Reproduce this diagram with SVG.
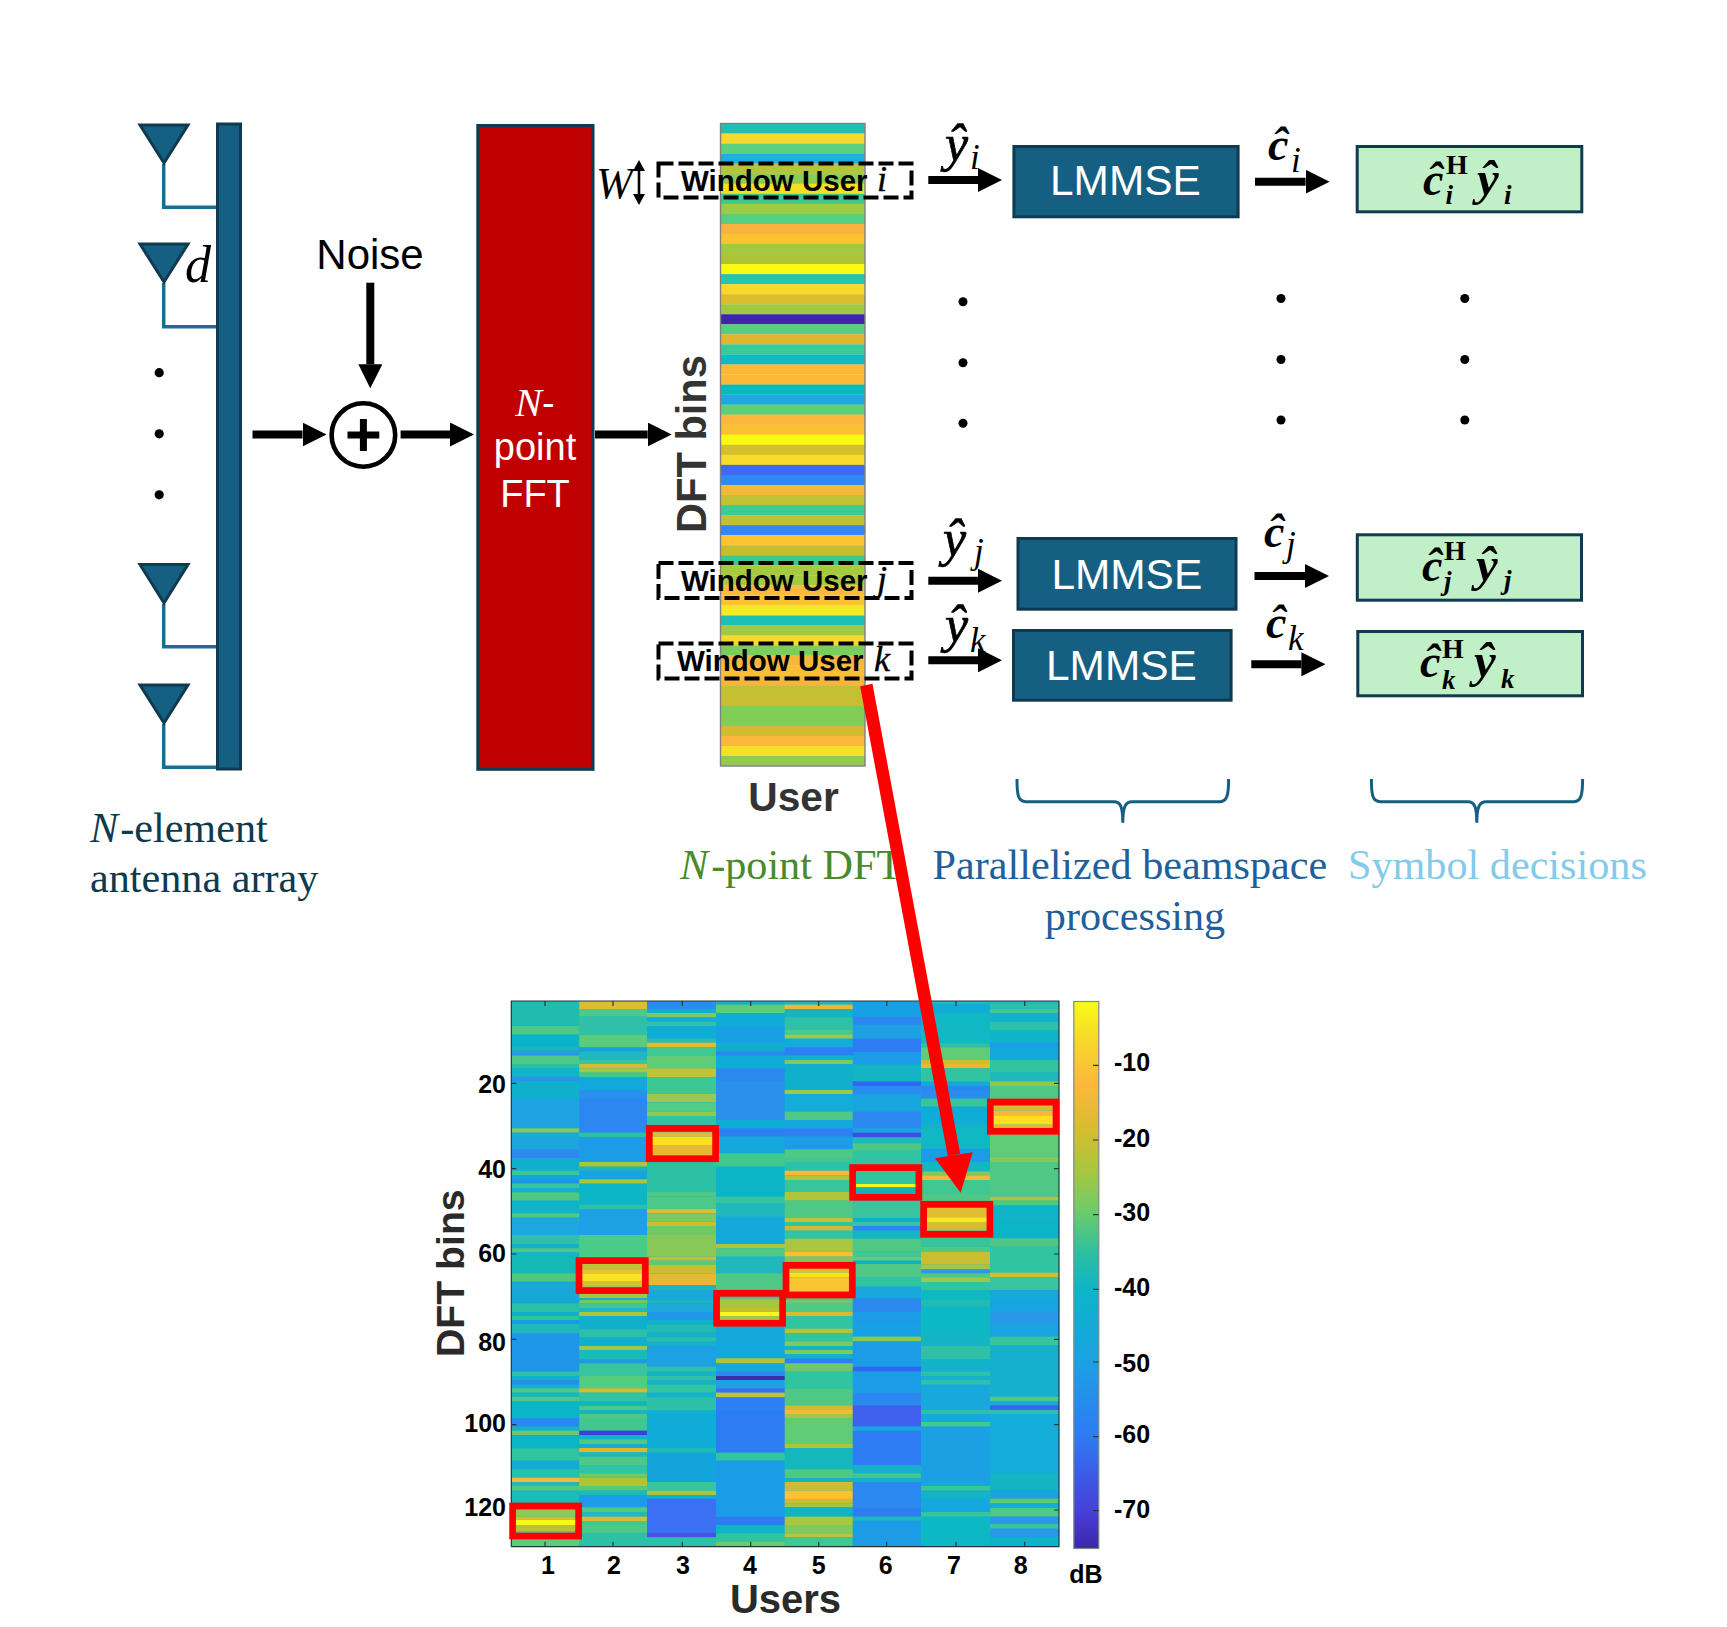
<svg xmlns="http://www.w3.org/2000/svg" width="1727" height="1627" viewBox="0 0 1727 1627">
<style>
text{font-family:"Liberation Sans",Arial,sans-serif}
.serif,.serif tspan{font-family:"Liberation Serif","Times New Roman",serif}
.it{font-family:"Liberation Serif","Times New Roman",serif;font-style:italic}
.blue{fill:#156082;stroke:#0f3a4f;stroke-width:3}
.green{fill:#c1f0c8;stroke:#0f3a4f;stroke-width:3}
.ant{fill:#156082;stroke:#0f3a4f;stroke-width:3;stroke-linejoin:miter}
.feed{fill:none;stroke:#1a6d93;stroke-width:3.5}
.brace{fill:none;stroke:#156082;stroke-width:3}
.lm{fill:#fff;font-size:42.4px;text-anchor:middle}
.win{font-size:29.5px;font-weight:bold;fill:#000}
.winv{font-size:36px;fill:#000;stroke:#000;stroke-width:.4}
.dash{fill:none;stroke:#000;stroke-width:4;stroke-dasharray:15 5}
.arr{fill:none;stroke:#000;stroke-width:8;marker-end:url(#ah)}
.cap{font-size:42.2px}
.st rect{width:144.5px}
.hm rect{width:69px}
.rb{fill:none;stroke:#f00;stroke-width:6.7}
.tl{font-size:25px;font-weight:bold;fill:#000}
.tr{text-anchor:end}
.tm{text-anchor:middle}
.hat{font-size:52px;font-style:italic;stroke:#000;stroke-width:.7}
.hatb{font-size:44px;font-style:italic;font-weight:bold}
.hatc{font-size:46px;font-style:italic;font-weight:bold}
.hatd{font-size:49px;font-style:italic;font-weight:bold}
.sub{font-size:35px;font-style:italic}
.subb{font-size:27px;font-style:italic;font-weight:bold}
.sup{font-size:28px;font-weight:bold}
.dot{fill:#000}
.tick{fill:none;stroke:#20383c;stroke-width:1.2}
</style>
<defs>
<marker id="ah" markerUnits="strokeWidth" markerWidth="3" markerHeight="3" viewBox="0 0 3 3" refX="0" refY="1.5" orient="auto"><path d="M0 0L3 1.5L0 3z" fill="#000"/></marker>
<linearGradient id="parula" x1="0" y1="0" x2="0" y2="1">
<stop offset="0" stop-color="#f9fb15"/><stop offset=".06" stop-color="#f7dc2a"/><stop offset=".15" stop-color="#fdb83c"/><stop offset=".23" stop-color="#d8bc30"/><stop offset=".31" stop-color="#a8c640"/><stop offset=".38" stop-color="#70cc68"/><stop offset=".46" stop-color="#2cc0a0"/><stop offset=".53" stop-color="#0cb4c8"/><stop offset=".66" stop-color="#1ca0e4"/><stop offset=".79" stop-color="#2e7cf4"/><stop offset=".93" stop-color="#4840d8"/><stop offset="1" stop-color="#3e26a8"/>
</linearGradient>
</defs>
<rect width="1727" height="1627" fill="#fff"/>

<g id="antenna-array">
<path class="feed" d="M163.7 164V207.3H217"/><path class="feed" d="M163.7 283V326.7H217"/><path class="feed" d="M163.7 604V646.7H217"/><path class="feed" d="M163.7 724V767.3H217"/>
<rect class="blue" x="217.5" y="124" width="23" height="645"/>
<polygon class="ant" points="140,125 188,125 164,163"/>
<polygon class="ant" points="140,244 188,244 164,282"/>
<polygon class="ant" points="140,564.5 188,564.5 164,603"/>
<polygon class="ant" points="140,685 188,685 164,723"/>
<circle class="dot" cx="159.2" cy="372.7" r="4.6"/><circle class="dot" cx="159.2" cy="433.8" r="4.6"/><circle class="dot" cx="159.2" cy="494.8" r="4.6"/>
<text class="it" x="185" y="281.7" font-size="52" fill="#000">d</text>
<text class="serif cap" x="90" y="841.5" fill="#0e3a4e"><tspan font-style="italic">N</tspan><tspan dx="2">-element</tspan></text>
<text class="serif cap" x="90" y="891.5" fill="#0e3a4e">antenna array</text>
</g>

<g id="noise">
<text x="370" y="269" font-size="42" text-anchor="middle" fill="#000">Noise</text>
</g>
<g id="adder">
<circle cx="363.4" cy="435" r="31.8" fill="#fff" stroke="#000" stroke-width="4.6"/>
<path d="M347.5 435H379.3M363.4 419V451" stroke="#000" stroke-width="7" fill="none"/>
</g>

<g id="fft">
<rect x="477.8" y="125.5" width="115.2" height="643.8" fill="#c00000" stroke="#0f3a4f" stroke-width="3"/>
<text x="535" y="416" font-size="38" text-anchor="middle" fill="#fff"><tspan class="it" font-size="40">N</tspan>-</text>
<text x="535" y="460" font-size="38" text-anchor="middle" fill="#fff">point</text>
<text x="535" y="507" font-size="38" text-anchor="middle" fill="#fff">FFT</text>
</g>

<g id="dft-strip">
<g class="st" transform="translate(720.5 123.5) scale(1 10.04)">
<rect y="0" height="1.02" fill="#1fbfb5"/><rect y="1" height="1.02" fill="#f5d92c"/><rect y="2" height="1.02" fill="#5ad17f"/><rect y="3" height="1.02" fill="#1bb0e0"/><rect y="4" height="1.02" fill="#b5c43a"/><rect y="5" height="1.02" fill="#8ccd55"/><rect y="6" height="1.02" fill="#f8de20"/><rect y="7" height="1.02" fill="#3cc98f"/><rect y="8" height="1.02" fill="#9ccb44"/><rect y="9" height="1.02" fill="#56d080"/><rect y="10" height="1.02" fill="#f7b33d"/><rect y="11" height="1.02" fill="#fdc22f"/><rect y="12" height="1.02" fill="#a3c93f"/><rect y="13" height="1.02" fill="#adc535"/><rect y="14" height="1.02" fill="#f9fb10"/><rect y="15" height="1.02" fill="#28c4ac"/><rect y="16" height="1.02" fill="#f8d828"/><rect y="17" height="1.02" fill="#dcbd2d"/><rect y="18" height="1.02" fill="#a0c840"/><rect y="19" height="1.02" fill="#3e26a8"/><rect y="20" height="1.02" fill="#56d080"/><rect y="21" height="1.02" fill="#e0b62e"/><rect y="22" height="1.02" fill="#38cb97"/><rect y="23" height="1.02" fill="#0ebcc0"/><rect y="24" height="1.02" fill="#fcb937"/><rect y="25" height="1.02" fill="#fcb937"/><rect y="26" height="1.02" fill="#0abbbc"/><rect y="27" height="1.02" fill="#1fa8e0"/><rect y="28" height="1.02" fill="#5ecf78"/><rect y="29" height="1.02" fill="#fbb73c"/><rect y="30" height="1.02" fill="#fcc032"/><rect y="31" height="1.02" fill="#f8fa12"/><rect y="32" height="1.02" fill="#d4bf2e"/><rect y="33" height="1.02" fill="#f7dc2a"/><rect y="34" height="1.02" fill="#3f69f5"/><rect y="35" height="1.02" fill="#2e8af2"/><rect y="36" height="1.02" fill="#f5b93a"/><rect y="37" height="1.02" fill="#bfc233"/><rect y="38" height="1.02" fill="#3dcc8e"/><rect y="39" height="1.02" fill="#bcc136"/><rect y="40" height="1.02" fill="#2f88f4"/><rect y="41" height="1.02" fill="#fdc333"/><rect y="42" height="1.02" fill="#c5bf30"/><rect y="43" height="1.02" fill="#3cc98f"/><rect y="44" height="1.02" fill="#a5c93f"/><rect y="45" height="1.02" fill="#a5c93f"/><rect y="46" height="1.02" fill="#f9b93c"/><rect y="47" height="1.02" fill="#fcc232"/><rect y="48" height="1.02" fill="#f5ea20"/><rect y="49" height="1.02" fill="#1cc0b4"/><rect y="50" height="1.02" fill="#a2c945"/><rect y="51" height="1.02" fill="#f7d92c"/><rect y="52" height="1.02" fill="#7bce5d"/><rect y="53" height="1.02" fill="#f6b83c"/><rect y="54" height="1.02" fill="#fbbd36"/><rect y="55" height="1.02" fill="#f4b63e"/><rect y="56" height="1.02" fill="#c2c033"/><rect y="57" height="1.02" fill="#c8be32"/><rect y="58" height="1.02" fill="#80cd58"/><rect y="59" height="1.02" fill="#84cc58"/><rect y="60" height="1.02" fill="#d3bb30"/><rect y="61" height="1.02" fill="#fbb63c"/><rect y="62" height="1.02" fill="#f5e028"/><rect y="63" height="1" fill="#93ca50"/>
</g>
<rect x="720.5" y="123.5" width="144.5" height="642.5" fill="none" stroke="#808080" stroke-width="1.4"/>
<text transform="translate(706 533) rotate(-90)" font-size="41.6" font-weight="bold" fill="#333">DFT bins</text>
<text x="793.5" y="811" font-size="40.7" font-weight="bold" text-anchor="middle" fill="#333">User</text>
<text class="serif cap" x="680" y="878.7" fill="#4a8a2c"><tspan font-style="italic">N</tspan><tspan dx="3">-point DFT</tspan></text>
</g>

<g id="window-i"><rect class="dash" x="658.5" y="163.5" width="253" height="34"/><text class="win" x="681" y="190.7">Window User </text><text class="it winv" x="877" y="190.7">i</text></g>
<g id="window-j"><rect class="dash" x="658.5" y="563" width="253" height="35"/><text class="win" x="681" y="590.7">Window User </text><text class="it winv" x="877" y="590.7">j</text></g>
<g id="window-k"><rect class="dash" x="658.5" y="643.5" width="253" height="35"/><text class="win" x="677" y="670.5">Window User </text><text class="it winv" x="874" y="670.5">k</text></g>

<g id="w-label">
<text class="it" x="596" y="198.3" font-size="44" fill="#000">W</text>
<path d="M639 168V197" stroke="#000" stroke-width="2.6" fill="none"/><path d="M639 160L645 171H633zM639 205L645 194H633z" fill="#000"/>
</g>

<g id="lmmse-i"><rect class="blue" x="1013.9" y="146.5" width="224.2" height="70.3"/><text class="lm" x="1125.4" y="195.2">LMMSE</text></g>
<g id="lmmse-j"><rect class="blue" x="1018" y="538.5" width="218" height="70.7"/><text class="lm" x="1126.8" y="589">LMMSE</text></g>
<g id="lmmse-k"><rect class="blue" x="1013.5" y="630.5" width="217.6" height="69.7"/><text class="lm" x="1121.4" y="680">LMMSE</text></g>

<g id="decision-i"><rect class="green" x="1357.2" y="146.5" width="224.6" height="65.3"/>
<text class="serif hatc" x="1423" y="195">ĉ</text><text class="serif sup" x="1446" y="174">H</text><text class="serif subb" x="1445.6" y="204">i</text><text class="serif hatd" x="1477" y="195">ŷ</text><text class="serif subb" x="1504" y="204">i</text></g>
<g id="decision-j"><rect class="green" x="1357.3" y="534.8" width="224.2" height="65.4"/>
<text class="serif hatc" x="1422" y="581">ĉ</text><text class="serif sup" x="1444" y="560">H</text><text class="serif subb" x="1444" y="590">j</text><text class="serif hatd" x="1476" y="581">ŷ</text><text class="serif subb" x="1504" y="589">j</text></g>
<g id="decision-k"><rect class="green" x="1357.8" y="631.5" width="224.7" height="64.3"/>
<text class="serif hatc" x="1420" y="677">ĉ</text><text class="serif sup" x="1442" y="658">H</text><text class="serif subb" x="1442" y="689">k</text><text class="serif hatd" x="1474" y="677">ŷ</text><text class="serif subb" x="1501" y="688">k</text></g>

<g id="labels">
<text class="serif hat" x="945" y="161">ŷ</text><text class="serif sub" x="970" y="169">i</text>
<text class="serif hat" x="943" y="556">ŷ</text><text class="serif sub" x="974" y="563">j</text>
<text class="serif hat" x="945" y="642">ŷ</text><text class="serif sub" x="970" y="652">k</text>
<text class="serif hatc" x="1268" y="160">ĉ</text><text class="serif sub" x="1291" y="172">i</text>
<text class="serif hatc" x="1264" y="546.7">ĉ</text><text class="serif sub" x="1286" y="556">j</text>
<text class="serif hatc" x="1266" y="638">ĉ</text><text class="serif sub" x="1288" y="650">k</text>
<circle class="dot" cx="963" cy="301.7" r="4.5"/><circle class="dot" cx="963" cy="362.7" r="4.5"/><circle class="dot" cx="963" cy="423.3" r="4.5"/>
<circle class="dot" cx="1281" cy="298.5" r="4.5"/><circle class="dot" cx="1281" cy="359.5" r="4.5"/><circle class="dot" cx="1281" cy="420" r="4.5"/>
<circle class="dot" cx="1464.8" cy="298.5" r="4.5"/><circle class="dot" cx="1464.8" cy="359.5" r="4.5"/><circle class="dot" cx="1464.8" cy="420" r="4.5"/>
<path class="brace" d="M1017 779C1017 795 1018 801.7 1026 801.7H1114C1120 801.7 1122.8 806 1122.8 822.7C1122.8 806 1126 801.7 1132 801.7H1220C1227 801.7 1228.6 795 1228.6 779"/>
<path class="brace" d="M1371.4 779C1371.4 795 1372.4 801.7 1380.4 801.7H1468C1474 801.7 1476.8 806 1476.8 822.7C1476.8 806 1480 801.7 1486 801.7H1574C1581 801.7 1582.6 795 1582.6 779"/>
<text class="serif cap" x="932.5" y="878.7" fill="#215f9a">Parallelized beamspace</text>
<text class="serif cap tm" x="1135" y="930.3" fill="#215f9a">processing</text>
<text class="serif cap" x="1348" y="878.7" fill="#83cbeb">Symbol decisions</text>
</g>

<g id="heatmap">
<rect x="511.3" y="1001" width="547.7" height="545.5" fill="#14b0cc"/>
<g class="hm" transform="translate(511.3 990) scale(1 .33333)">
<rect y="33" height="75" fill="#20bcae"/><rect y="108" height="26" fill="#4cc888"/><rect y="134" height="38" fill="#0ab4c8"/><rect y="172" height="12" fill="#1fb0c8"/><rect y="184" height="13" fill="#2a98e8"/><rect y="197" height="25" fill="#50c885"/><rect y="222" height="13" fill="#2bc0a0"/><rect y="235" height="25" fill="#0fb5c8"/><rect y="260" height="13" fill="#2a95e8"/><rect y="273" height="52" fill="#10b0cc"/><rect y="325" height="90" fill="#1ea4e0"/><rect y="415" height="13" fill="#80c860"/><rect y="428" height="50" fill="#1aa8dc"/><rect y="478" height="26" fill="#2e88f0"/><rect y="504" height="38" fill="#10b0cc"/><rect y="542" height="13" fill="#3cc49a"/><rect y="555" height="13" fill="#10a8d8"/><rect y="568" height="13" fill="#1b95ea"/><rect y="581" height="13" fill="#3bc49b"/><rect y="594" height="13" fill="#10b0cc"/><rect y="607" height="25" fill="#50c882"/><rect y="632" height="38" fill="#0fb4c8"/><rect y="670" height="13" fill="#50c885"/><rect y="683" height="52" fill="#1ca8dc"/><rect y="735" height="27" fill="#30c0a8"/><rect y="762" height="13" fill="#14afc8"/><rect y="775" height="12" fill="#50c882"/><rect y="787" height="13" fill="#10b8c0"/><rect y="800" height="50" fill="#14b8b4"/><rect y="850" height="25" fill="#50c880"/><rect y="875" height="85" fill="#18a8d8"/>
</g>
<g class="hm" transform="translate(579.2 990) scale(1 .33333)">
<rect y="33" height="24" fill="#dcbc30"/><rect y="57" height="23" fill="#50c888"/><rect y="80" height="55" fill="#2ec0a8"/><rect y="135" height="37" fill="#5ccc78"/><rect y="172" height="13" fill="#1aa0e0"/><rect y="185" height="25" fill="#20b8c0"/><rect y="210" height="12" fill="#38c49c"/><rect y="222" height="13" fill="#d8bc30"/><rect y="235" height="13" fill="#a8c640"/><rect y="248" height="14" fill="#40c890"/><rect y="262" height="38" fill="#12a8dc"/><rect y="300" height="25" fill="#2a90ee"/><rect y="325" height="103" fill="#2c88f0"/><rect y="428" height="13" fill="#2cc0a4"/><rect y="441" height="75" fill="#1c9ce6"/><rect y="516" height="14" fill="#b0c438"/><rect y="530" height="12" fill="#20b4c0"/><rect y="542" height="26" fill="#18a4dc"/><rect y="568" height="13" fill="#a8c640"/><rect y="581" height="64" fill="#0cb6c6"/><rect y="645" height="12" fill="#30c0a8"/><rect y="657" height="78" fill="#1ea0e4"/><rect y="735" height="85" fill="#48cc88"/><rect y="820" height="20" fill="#c0c238"/><rect y="840" height="10" fill="#e8c030"/><rect y="850" height="25" fill="#fde020"/><rect y="875" height="15" fill="#d8c030"/><rect y="890" height="22" fill="#c0c238"/><rect y="912" height="13" fill="#a0c840"/><rect y="925" height="35" fill="#18a8dc"/>
</g>
<g class="hm" transform="translate(647 990) scale(1 .33333)">
<rect y="33" height="24" fill="#2a8cf0"/><rect y="57" height="12" fill="#10b0cc"/><rect y="69" height="13" fill="#80c860"/><rect y="82" height="13" fill="#14acd4"/><rect y="95" height="13" fill="#30c0a8"/><rect y="108" height="38" fill="#10acd8"/><rect y="146" height="12" fill="#28bcb0"/><rect y="158" height="14" fill="#e8b82e"/><rect y="172" height="25" fill="#40c890"/><rect y="197" height="38" fill="#60cc78"/><rect y="235" height="27" fill="#c0c238"/><rect y="262" height="50" fill="#3cc894"/><rect y="312" height="25" fill="#98c850"/><rect y="337" height="28" fill="#50cc84"/><rect y="365" height="13" fill="#90c850"/><rect y="378" height="49" fill="#30c4a0"/><rect y="427" height="13" fill="#e0bc30"/><rect y="440" height="25" fill="#fce020"/><rect y="465" height="30" fill="#e8b830"/><rect y="495" height="21" fill="#d8bc30"/><rect y="516" height="89" fill="#2cc0a4"/><rect y="605" height="15" fill="#50c885"/><rect y="620" height="37" fill="#4cc888"/><rect y="657" height="13" fill="#dcbc30"/><rect y="670" height="25" fill="#80c860"/><rect y="695" height="13" fill="#d0bc30"/><rect y="708" height="27" fill="#70c868"/><rect y="735" height="65" fill="#88c858"/><rect y="800" height="12" fill="#c8bc34"/><rect y="812" height="13" fill="#60c870"/><rect y="825" height="25" fill="#c8be34"/><rect y="850" height="35" fill="#e8b830"/><rect y="885" height="15" fill="#20b4c0"/><rect y="900" height="60" fill="#18a8dc"/>
</g>
<g class="hm" transform="translate(716 990) scale(1 .33333)">
<rect y="33" height="11" fill="#10b4c8"/><rect y="44" height="25" fill="#60cc78"/><rect y="69" height="39" fill="#10acd8"/><rect y="108" height="52" fill="#18a0e4"/><rect y="160" height="25" fill="#14acd0"/><rect y="185" height="12" fill="#2a88f0"/><rect y="197" height="38" fill="#10acd8"/><rect y="235" height="38" fill="#2a88ee"/><rect y="273" height="117" fill="#2a90ec"/><rect y="390" height="25" fill="#10acd8"/><rect y="415" height="25" fill="#2c80f2"/><rect y="440" height="50" fill="#14a8dc"/><rect y="490" height="40" fill="#40c890"/><rect y="530" height="90" fill="#0cb4c8"/><rect y="620" height="20" fill="#34c4a0"/><rect y="640" height="40" fill="#20b8bc"/><rect y="680" height="82" fill="#14a8dc"/><rect y="762" height="13" fill="#a8c640"/><rect y="775" height="25" fill="#50c885"/><rect y="800" height="50" fill="#20b8bc"/><rect y="850" height="50" fill="#50c885"/><rect y="900" height="25" fill="#30c4a0"/><rect y="925" height="35" fill="#80c860"/>
</g>
<g class="hm" transform="translate(784.7 990) scale(1 .33333)">
<rect y="33" height="11" fill="#20b8bc"/><rect y="44" height="13" fill="#f0b830"/><rect y="57" height="25" fill="#14b4c4"/><rect y="82" height="38" fill="#30c0a8"/><rect y="120" height="14" fill="#50c885"/><rect y="134" height="12" fill="#a0c848"/><rect y="146" height="26" fill="#14acd8"/><rect y="172" height="25" fill="#2c80f4"/><rect y="197" height="13" fill="#10b0d0"/><rect y="210" height="12" fill="#80c860"/><rect y="222" height="78" fill="#10b0cc"/><rect y="300" height="12" fill="#a0c848"/><rect y="312" height="53" fill="#14acd8"/><rect y="365" height="25" fill="#50c885"/><rect y="390" height="25" fill="#14a8dc"/><rect y="415" height="25" fill="#2c80f2"/><rect y="440" height="38" fill="#1c9ce6"/><rect y="478" height="26" fill="#50c885"/><rect y="504" height="12" fill="#40c890"/><rect y="516" height="26" fill="#2cc0a8"/><rect y="542" height="14" fill="#f5b83c"/><rect y="556" height="14" fill="#b0c43a"/><rect y="570" height="36" fill="#38c49c"/><rect y="606" height="26" fill="#b0c43a"/><rect y="632" height="52" fill="#50c885"/><rect y="684" height="12" fill="#c0c238"/><rect y="696" height="12" fill="#30c4a0"/><rect y="708" height="14" fill="#c8be32"/><rect y="722" height="24" fill="#30c4a0"/><rect y="746" height="39" fill="#a8c640"/><rect y="785" height="15" fill="#f8c030"/><rect y="800" height="35" fill="#7cc860"/><rect y="835" height="13" fill="#e8b830"/><rect y="848" height="14" fill="#fde020"/><rect y="862" height="43" fill="#f8c630"/><rect y="905" height="19" fill="#d8bc30"/><rect y="924" height="36" fill="#50c885"/>
</g>
<g class="hm" transform="translate(852.7 990) scale(1 .33333)">
<rect y="33" height="47" fill="#18a0e4"/><rect y="80" height="26" fill="#2a88f0"/><rect y="106" height="40" fill="#1ea0e4"/><rect y="146" height="40" fill="#2e7cf4"/><rect y="186" height="38" fill="#1c9ce6"/><rect y="224" height="50" fill="#14b4c4"/><rect y="274" height="14" fill="#3068f4"/><rect y="288" height="24" fill="#2a8cf0"/><rect y="312" height="53" fill="#18a4dc"/><rect y="365" height="50" fill="#2a88ee"/><rect y="415" height="13" fill="#1ea0e4"/><rect y="428" height="14" fill="#3c50e8"/><rect y="442" height="18" fill="#20b8bc"/><rect y="460" height="20" fill="#50c885"/><rect y="480" height="102" fill="#30c4a0"/><rect y="582" height="10" fill="#f0f820"/><rect y="592" height="40" fill="#14b0c0"/><rect y="632" height="52" fill="#38c49c"/><rect y="684" height="12" fill="#10b0cc"/><rect y="696" height="12" fill="#38c49c"/><rect y="708" height="14" fill="#2a88f0"/><rect y="722" height="24" fill="#14b4c4"/><rect y="746" height="39" fill="#50c885"/><rect y="785" height="15" fill="#40c890"/><rect y="800" height="12" fill="#60cc78"/><rect y="812" height="10" fill="#10b0cc"/><rect y="822" height="40" fill="#50c885"/><rect y="862" height="28" fill="#30c4a0"/><rect y="890" height="35" fill="#18a8dc"/><rect y="925" height="35" fill="#2a88f0"/>
</g>
<g class="hm" transform="translate(921 990) scale(1 .33333)">
<rect y="33" height="9" fill="#20b8bc"/><rect y="42" height="28" fill="#10acd8"/><rect y="70" height="90" fill="#10b8c4"/><rect y="160" height="12" fill="#30c0a8"/><rect y="172" height="38" fill="#60cc78"/><rect y="210" height="12" fill="#c8be32"/><rect y="222" height="13" fill="#e8b830"/><rect y="235" height="40" fill="#30c4a0"/><rect y="275" height="13" fill="#14a8dc"/><rect y="288" height="12" fill="#2a88f0"/><rect y="300" height="26" fill="#2a8cf0"/><rect y="326" height="24" fill="#38c49c"/><rect y="350" height="50" fill="#10acd8"/><rect y="400" height="15" fill="#14b0cc"/><rect y="415" height="61" fill="#10b8c4"/><rect y="476" height="40" fill="#1c9ce6"/><rect y="516" height="28" fill="#10b8c4"/><rect y="544" height="12" fill="#80c860"/><rect y="556" height="14" fill="#f5b83c"/><rect y="570" height="40" fill="#40c890"/><rect y="610" height="44" fill="#50c885"/><rect y="654" height="28" fill="#e0bc30"/><rect y="682" height="14" fill="#fbe820"/><rect y="696" height="26" fill="#d8bc30"/><rect y="722" height="48" fill="#38c49c"/><rect y="770" height="15" fill="#50c885"/><rect y="785" height="39" fill="#c8be32"/><rect y="824" height="14" fill="#a0c848"/><rect y="838" height="12" fill="#2a98e8"/><rect y="850" height="12" fill="#50c885"/><rect y="862" height="14" fill="#a0c848"/><rect y="876" height="24" fill="#30c4a0"/><rect y="900" height="60" fill="#10b8c4"/>
</g>
<g class="hm" transform="translate(990 990) scale(1 .33333)">
<rect y="33" height="9" fill="#20b8bc"/><rect y="42" height="14" fill="#2cc0a8"/><rect y="56" height="14" fill="#40c890"/><rect y="70" height="25" fill="#14b0cc"/><rect y="95" height="25" fill="#2cc0a8"/><rect y="120" height="38" fill="#10b4c8"/><rect y="158" height="14" fill="#1c9ce6"/><rect y="172" height="38" fill="#14a8dc"/><rect y="210" height="38" fill="#30c4a0"/><rect y="248" height="26" fill="#20b8bc"/><rect y="274" height="14" fill="#90c850"/><rect y="288" height="60" fill="#50c885"/><rect y="348" height="14" fill="#d8bc30"/><rect y="362" height="14" fill="#f8b83c"/><rect y="376" height="28" fill="#fde020"/><rect y="404" height="30" fill="#e0bc30"/><rect y="434" height="66" fill="#60cc78"/><rect y="500" height="16" fill="#80c860"/><rect y="516" height="104" fill="#50c885"/><rect y="620" height="12" fill="#a8c640"/><rect y="632" height="13" fill="#50c885"/><rect y="645" height="50" fill="#10b4c8"/><rect y="695" height="50" fill="#0cb4c8"/><rect y="745" height="25" fill="#50c885"/><rect y="770" height="78" fill="#30c4a0"/><rect y="848" height="14" fill="#d0c030"/><rect y="862" height="38" fill="#38c49c"/><rect y="900" height="60" fill="#14a8dc"/>
</g>

<g class="hm" transform="translate(511.3 1300) scale(1 .33333)">
<rect y="0" height="10" fill="#10a8d8"/><rect y="10" height="26" fill="#2bc0a4"/><rect y="36" height="12" fill="#10b0cc"/><rect y="48" height="12" fill="#30c49c"/><rect y="60" height="12" fill="#10a0e0"/><rect y="72" height="28" fill="#20b8bc"/><rect y="100" height="115" fill="#2096e8"/><rect y="215" height="13" fill="#30c0a8"/><rect y="228" height="12" fill="#10b0cc"/><rect y="240" height="14" fill="#2e88f0"/><rect y="254" height="11" fill="#14b0d0"/><rect y="265" height="13" fill="#50c885"/><rect y="278" height="12" fill="#14b8c0"/><rect y="290" height="14" fill="#50c885"/><rect y="304" height="50" fill="#0cb4c8"/><rect y="354" height="26" fill="#2a88f0"/><rect y="380" height="12" fill="#14b0cc"/><rect y="392" height="13" fill="#6cc870"/><rect y="405" height="40" fill="#0cb4c8"/><rect y="445" height="37" fill="#30c4a0"/><rect y="482" height="26" fill="#14acd4"/><rect y="508" height="25" fill="#28c0a8"/><rect y="533" height="13" fill="#f5b83c"/><rect y="546" height="12" fill="#20b8bc"/><rect y="558" height="14" fill="#50c880"/><rect y="572" height="38" fill="#18bcb8"/><rect y="610" height="18" fill="#60c870"/><rect y="628" height="22" fill="#90c850"/><rect y="650" height="10" fill="#d8bc30"/><rect y="660" height="15" fill="#f8f820"/><rect y="675" height="20" fill="#b8c238"/><rect y="695" height="23" fill="#40c890"/><rect y="718" height="22" fill="#60cc78"/>
</g>
<g class="hm" transform="translate(579.2 1300) scale(1 .33333)">
<rect y="0" height="10" fill="#70c868"/><rect y="10" height="14" fill="#40c890"/><rect y="24" height="12" fill="#20b8c0"/><rect y="36" height="12" fill="#b0c43a"/><rect y="48" height="40" fill="#10b0cc"/><rect y="88" height="24" fill="#2cc0a8"/><rect y="112" height="26" fill="#10b0cc"/><rect y="138" height="12" fill="#a0c848"/><rect y="150" height="28" fill="#18bcb4"/><rect y="178" height="12" fill="#2098e8"/><rect y="190" height="38" fill="#38c49c"/><rect y="228" height="37" fill="#54cc80"/><rect y="265" height="13" fill="#d8bc30"/><rect y="278" height="26" fill="#30c4a0"/><rect y="304" height="14" fill="#10b4c8"/><rect y="318" height="12" fill="#50c885"/><rect y="330" height="12" fill="#14b4c4"/><rect y="342" height="12" fill="#50c885"/><rect y="354" height="38" fill="#40c890"/><rect y="392" height="13" fill="#3c40d8"/><rect y="405" height="13" fill="#10b4c8"/><rect y="418" height="14" fill="#50c885"/><rect y="432" height="12" fill="#14b0c8"/><rect y="444" height="13" fill="#e0b82c"/><rect y="457" height="13" fill="#18b8bc"/><rect y="470" height="25" fill="#50c885"/><rect y="495" height="25" fill="#30c4a0"/><rect y="520" height="13" fill="#70c868"/><rect y="533" height="25" fill="#b4c238"/><rect y="558" height="14" fill="#60c870"/><rect y="572" height="13" fill="#18bcb8"/><rect y="585" height="37" fill="#1c9ce6"/><rect y="622" height="14" fill="#50c885"/><rect y="636" height="14" fill="#20b8c0"/><rect y="650" height="13" fill="#d8bc30"/><rect y="663" height="12" fill="#40c890"/><rect y="675" height="25" fill="#50c885"/><rect y="700" height="40" fill="#2cc0a4"/>
</g>
<g class="hm" transform="translate(647 1300) scale(1 .33333)">
<rect y="0" height="10" fill="#20b4c0"/><rect y="10" height="26" fill="#1ea8d8"/><rect y="36" height="24" fill="#2098e8"/><rect y="60" height="14" fill="#10b0cc"/><rect y="74" height="24" fill="#20bcb4"/><rect y="98" height="14" fill="#14b0cc"/><rect y="112" height="13" fill="#2cc0a4"/><rect y="125" height="13" fill="#14b0cc"/><rect y="138" height="62" fill="#1ea0e4"/><rect y="200" height="15" fill="#30c0a8"/><rect y="215" height="13" fill="#14b4c4"/><rect y="228" height="12" fill="#30c0a8"/><rect y="240" height="14" fill="#14b0cc"/><rect y="254" height="24" fill="#30c4a0"/><rect y="278" height="14" fill="#14b0cc"/><rect y="292" height="38" fill="#2cc0a8"/><rect y="330" height="10" fill="#14b0cc"/><rect y="340" height="105" fill="#10acd8"/><rect y="445" height="13" fill="#20bcb4"/><rect y="458" height="88" fill="#14a4dc"/><rect y="546" height="26" fill="#38c49c"/><rect y="572" height="13" fill="#a8c640"/><rect y="585" height="11" fill="#10b0d0"/><rect y="596" height="102" fill="#3a70f4"/><rect y="698" height="14" fill="#4850e8"/><rect y="712" height="28" fill="#2cc0a8"/>
</g>
<g class="hm" transform="translate(716 1300) scale(1 .33333)">
<rect y="0" height="22" fill="#a8c440"/><rect y="22" height="14" fill="#c0c230"/><rect y="36" height="12" fill="#f8f820"/><rect y="48" height="12" fill="#a0c840"/><rect y="60" height="20" fill="#20b8bc"/><rect y="80" height="95" fill="#14a8dc"/><rect y="175" height="15" fill="#b0c43a"/><rect y="190" height="25" fill="#14a8dc"/><rect y="215" height="13" fill="#2a88f0"/><rect y="228" height="12" fill="#3c2ea8"/><rect y="240" height="25" fill="#1ea0e4"/><rect y="265" height="13" fill="#3c70f0"/><rect y="278" height="14" fill="#c0c238"/><rect y="292" height="38" fill="#2a80f4"/><rect y="330" height="128" fill="#2e7cf4"/><rect y="458" height="24" fill="#30c4a0"/><rect y="482" height="168" fill="#1a9ce6"/><rect y="650" height="25" fill="#2e7cf4"/><rect y="675" height="25" fill="#10b4c8"/><rect y="700" height="25" fill="#30c4a0"/><rect y="725" height="15" fill="#70c868"/>
</g>
<g class="hm" transform="translate(784.7 1300) scale(1 .33333)">
<rect y="0" height="10" fill="#70c868"/><rect y="10" height="26" fill="#50c885"/><rect y="36" height="12" fill="#d8bc30"/><rect y="48" height="38" fill="#30c4a0"/><rect y="86" height="14" fill="#b0c43a"/><rect y="100" height="24" fill="#30c4a0"/><rect y="124" height="14" fill="#80c860"/><rect y="138" height="12" fill="#14b4c4"/><rect y="150" height="12" fill="#80c860"/><rect y="162" height="14" fill="#14b0cc"/><rect y="176" height="14" fill="#2c80f4"/><rect y="190" height="25" fill="#70c868"/><rect y="215" height="50" fill="#30c4a0"/><rect y="265" height="51" fill="#50c885"/><rect y="316" height="14" fill="#c8be32"/><rect y="330" height="12" fill="#f8b83c"/><rect y="342" height="12" fill="#a0c848"/><rect y="354" height="78" fill="#60cc78"/><rect y="432" height="12" fill="#b0c43a"/><rect y="444" height="64" fill="#14b8bc"/><rect y="508" height="26" fill="#50c885"/><rect y="534" height="12" fill="#14b4c0"/><rect y="546" height="26" fill="#d0bc30"/><rect y="572" height="25" fill="#fcc030"/><rect y="597" height="13" fill="#c8be32"/><rect y="610" height="12" fill="#a0c848"/><rect y="622" height="28" fill="#0cb4c8"/><rect y="650" height="25" fill="#a8c640"/><rect y="675" height="25" fill="#80c860"/><rect y="700" height="12" fill="#c0c238"/><rect y="712" height="28" fill="#40c890"/>
</g>
<g class="hm" transform="translate(852.7 1300) scale(1 .33333)">
<rect y="0" height="36" fill="#2a88ee"/><rect y="36" height="38" fill="#1c9ce6"/><rect y="74" height="36" fill="#18a0e4"/><rect y="110" height="14" fill="#8cc850"/><rect y="124" height="76" fill="#1c9ce6"/><rect y="200" height="15" fill="#3068f4"/><rect y="215" height="63" fill="#1c9ce6"/><rect y="278" height="38" fill="#2a88f0"/><rect y="316" height="64" fill="#4060f0"/><rect y="380" height="12" fill="#14a8dc"/><rect y="392" height="103" fill="#2e7cf4"/><rect y="495" height="25" fill="#14b0cc"/><rect y="520" height="14" fill="#40c890"/><rect y="534" height="12" fill="#14b0cc"/><rect y="546" height="76" fill="#2a88f0"/><rect y="622" height="28" fill="#2e7cf4"/><rect y="650" height="12" fill="#20b8bc"/><rect y="662" height="78" fill="#1c9ce6"/>
</g>
<g class="hm" transform="translate(921 1300) scale(1 .33333)">
<rect y="0" height="20" fill="#20bcb4"/><rect y="20" height="80" fill="#0cb8c4"/><rect y="100" height="38" fill="#14b4c4"/><rect y="138" height="40" fill="#30c0a8"/><rect y="178" height="12" fill="#10b4c8"/><rect y="190" height="25" fill="#14b0cc"/><rect y="215" height="13" fill="#30c0a8"/><rect y="228" height="12" fill="#14b0cc"/><rect y="240" height="14" fill="#30c0a8"/><rect y="254" height="76" fill="#18a8dc"/><rect y="330" height="12" fill="#30c0a8"/><rect y="342" height="24" fill="#14a8dc"/><rect y="366" height="14" fill="#40c890"/><rect y="380" height="166" fill="#1ca0e4"/><rect y="546" height="12" fill="#14a8dc"/><rect y="558" height="14" fill="#38c49c"/><rect y="572" height="24" fill="#14b4c4"/><rect y="596" height="40" fill="#14a8dc"/><rect y="636" height="14" fill="#38c49c"/><rect y="650" height="90" fill="#0cb8c4"/>
</g>
<g class="hm" transform="translate(990 1300) scale(1 .33333)">
<rect y="0" height="36" fill="#18a4e0"/><rect y="36" height="38" fill="#2a98e8"/><rect y="74" height="36" fill="#18a4e0"/><rect y="110" height="26" fill="#38c49c"/><rect y="136" height="154" fill="#14b0cc"/><rect y="290" height="14" fill="#50c885"/><rect y="304" height="12" fill="#14acd8"/><rect y="316" height="14" fill="#4060f0"/><rect y="330" height="12" fill="#30c0a8"/><rect y="342" height="178" fill="#14acd8"/><rect y="520" height="50" fill="#14b4c4"/><rect y="570" height="26" fill="#18a4dc"/><rect y="596" height="14" fill="#60c870"/><rect y="610" height="14" fill="#14acd8"/><rect y="624" height="26" fill="#50c885"/><rect y="650" height="22" fill="#2a98e8"/><rect y="672" height="14" fill="#38c49c"/><rect y="686" height="26" fill="#2a98e8"/><rect y="712" height="28" fill="#0cb4c8"/>
</g>

<path class="tick" d="M511.3 1546.7V1001H1059V1546.7H511.3"/>
<path class="tick" d="M511.3 1083.3h5M511.3 1168.7h5M511.3 1254h5M511.3 1339.3h5M511.3 1424.7h5M511.3 1510h5M1059 1083.3h-5M1059 1168.7h-5M1059 1254h-5M1059 1339.3h-5M1059 1424.7h-5M1059 1510h-5M545 1001v5M613 1001v5M682.3 1001v5M750.7 1001v5M818.7 1001v5M886.7 1001v5M956 1001v5M1024.7 1001v5M545 1546.7v-5M613 1546.7v-5M682.3 1546.7v-5M750.7 1546.7v-5M818.7 1546.7v-5M886.7 1546.7v-5M956 1546.7v-5M1024.7 1546.7v-5"/>

<rect class="rb" x="512.6" y="1506" width="66" height="30"/>
<rect class="rb" x="579" y="1260.6" width="66.3" height="30"/>
<rect class="rb" x="649.3" y="1128.3" width="66.3" height="30.4"/>
<rect class="rb" x="716.6" y="1293.3" width="66" height="30"/>
<rect class="rb" x="786" y="1265.3" width="66.3" height="29.7"/>
<rect class="rb" x="852.6" y="1167.6" width="66.3" height="29.7"/>
<rect class="rb" x="923.6" y="1204.3" width="66.3" height="30"/>
<rect class="rb" x="990.3" y="1102" width="65.7" height="29.3"/>

<rect x="1073.8" y="1001.5" width="25" height="547" fill="url(#parula)" stroke="#7d8a8a" stroke-width="1.2"/>
<path class="tick" d="M1093 1065.3h5.5M1093 1140h5.5M1093 1214.7h5.5M1093 1289.3h5.5M1093 1362h5.5M1093 1436.7h5.5M1093 1510.7h5.5"/>

<text class="tl tr" x="506" y="1093.3">20</text><text class="tl tr" x="506" y="1177.7">40</text><text class="tl tr" x="506" y="1261.7">60</text><text class="tl tr" x="506" y="1350.7">80</text><text class="tl tr" x="506" y="1432">100</text><text class="tl tr" x="506" y="1515.7">120</text>
<text class="tl tm" x="548" y="1574.3">1</text><text class="tl tm" x="614" y="1574.3">2</text><text class="tl tm" x="683" y="1574.3">3</text><text class="tl tm" x="750" y="1574.3">4</text><text class="tl tm" x="818.7" y="1574.3">5</text><text class="tl tm" x="885.7" y="1574.3">6</text><text class="tl tm" x="954" y="1574.3">7</text><text class="tl tm" x="1020.7" y="1574.3">8</text>
<text class="tl" x="1114" y="1071">-10</text><text class="tl" x="1114" y="1146.7">-20</text><text class="tl" x="1114" y="1220.7">-30</text><text class="tl" x="1114" y="1295.7">-40</text><text class="tl" x="1114" y="1371.7">-50</text><text class="tl" x="1114" y="1443.3">-60</text><text class="tl" x="1114" y="1518.3">-70</text>
<text class="tl tm" x="1086" y="1583.3" font-size="24">dB</text>
<text x="785.5" y="1612.7" font-size="40" font-weight="bold" text-anchor="middle" fill="#2a2a2a">Users</text>
<text transform="translate(463.5 1357) rotate(-90)" font-size="39.2" font-weight="bold" fill="#2a2a2a">DFT bins</text>
</g>

<g id="connectors">
<path class="arr" d="M252.5 434.5H302.5"/>
<path class="arr" d="M400.6 434.5H450"/>
<path class="arr" d="M595 434.5H647.7"/>
<path class="arr" d="M370.3 282.7V364.3"/>
<path class="arr" d="M928.3 180H978"/>
<path class="arr" d="M928.3 580.7H978"/>
<path class="arr" d="M928.3 660.3H978"/>
<path class="arr" d="M1255 181.7H1305.6"/>
<path class="arr" d="M1254.5 576H1305"/>
<path class="arr" d="M1251.3 664.3H1301.4"/>
<path d="M866.3 685L954 1155" fill="none" stroke="#f00" stroke-width="12.6"/>
<polygon points="935,1158.3 972.7,1152.3 960.7,1192.7" fill="#f00"/>
</g>
</svg>
